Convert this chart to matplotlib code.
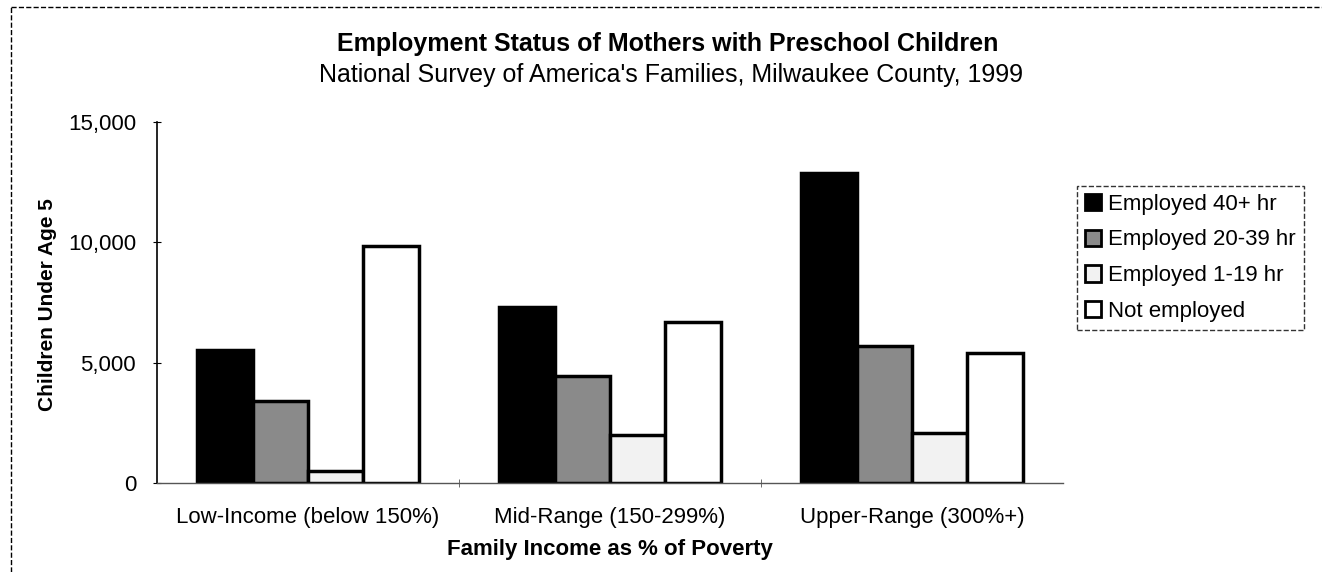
import numpy as np
import matplotlib.pyplot as plt
from matplotlib.lines import Line2D

plt.rcParams['font.family'] = ['Liberation Sans', 'DejaVu Sans']

groups = ["Low-Income (below 150%)", "Mid-Range (150-299%)", "Upper-Range (300%+)"]
series = ["Employed 40+ hr", "Employed 20-39 hr", "Employed 1-19 hr", "Not employed"]
emp_40 = [5530, 7330, 12880]
emp_20_39 = [3420, 4460, 5700]
emp_1_19 = [510, 2000, 2070]
not_emp = [9830, 6680, 5390]

values = [emp_40, emp_20_39, emp_1_19, not_emp]
colors = ['#000000', '#8a8a8a', '#f2f2f2', '#ffffff']

W, H = 1322, 572
fig = plt.figure(figsize=(W / 100, H / 100), dpi=100)
ax = fig.add_axes([157 / W, 1 - 483 / H, 906 / W, 361 / H])

x = np.arange(len(groups))
w = 0.183
for i, (vals, c) in enumerate(zip(values, colors)):
    ax.bar(x + (i - 1.5) * w, vals, width=w, color=c, edgecolor='black',
           linewidth=2.5, label=series[i])

ax.set_xlim(-0.5, 2.5)
ax.set_ylim(0, 15000)
ax.set_yticks([0, 5000, 10000, 15000])
ax.set_yticklabels(["0", "5,000", "10,000", "15,000"], fontsize=16)
ax.set_xticks(x)
ax.set_xticklabels(groups, fontsize=16)
ax.tick_params(axis='x', length=0, pad=17)
ax.set_xticks([0.5, 1.5], minor=True)
ax.tick_params(axis='x', which='minor', length=6, direction='inout', color='#555555')
ax.tick_params(axis='y', length=6, direction='inout', pad=12)

for s in ['top', 'right']:
    ax.spines[s].set_visible(False)
ax.spines['left'].set_linewidth(1.2)
ax.spines['bottom'].set_color('#555555')
ax.spines['bottom'].set_linewidth(1.0)

fig.text(47.5 / W, 1 - 305 / H, "Children Under Age 5", rotation=90,
         ha='center', va='center', fontsize=15, fontweight='bold')
fig.text(610 / W, 1 - 550 / H, "Family Income as % of Poverty",
         ha='center', va='center', fontsize=16, fontweight='bold')

fig.text(668 / W, 1 - 44 / H, "Employment Status of Mothers with Preschool Children",
         ha='center', va='center', fontsize=18, fontweight='bold')
fig.text(671 / W, 1 - 75 / H, "National Survey of America's Families, Milwaukee County, 1999",
         ha='center', va='center', fontsize=18)

leg = ax.legend(loc='upper left', bbox_to_anchor=(1077 / W, 1 - 186 / H),
                bbox_transform=fig.transFigure, fontsize=16, frameon=True,
                fancybox=False, edgecolor='black', handlelength=0.75, handleheight=0.75,
                handletextpad=0.3, borderpad=0.35, labelspacing=0.66, borderaxespad=0)
leg.get_frame().set_linestyle('--')
leg.get_frame().set_linewidth(1.0)
for h in leg.legend_handles:
    h.set_linewidth(2.0)

# dashed outer border of the chart area
fig.add_artist(Line2D([11 / W, 1.0], [1 - 7 / H, 1 - 7 / H], transform=fig.transFigure,
                      color='black', linestyle='--', linewidth=1.0))
fig.add_artist(Line2D([11 / W, 11 / W], [0, 1 - 7 / H], transform=fig.transFigure,
                      color='black', linestyle='--', linewidth=1.0))

fig.savefig("out.png", dpi=100)
